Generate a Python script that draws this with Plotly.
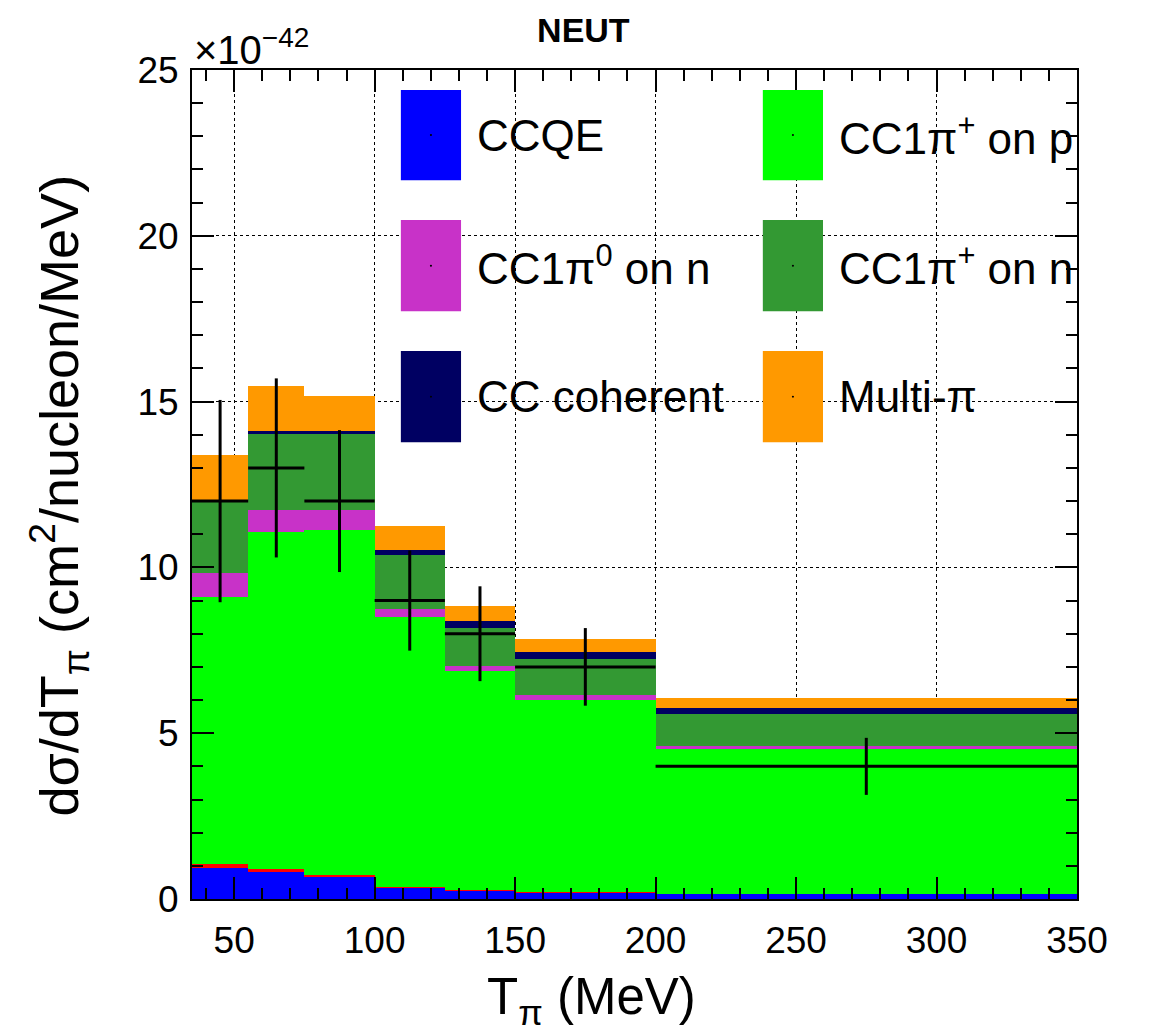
import plotly.graph_objects as go

# Bin edges (MeV)
bin_edges = [35, 55, 75, 100, 125, 150, 200, 350]

# Stacked components (x 1e-42 cm^2/nucleon/MeV), bottom to top
ccqe      = [0.95, 0.81, 0.67, 0.34, 0.25, 0.20, 0.14]
other     = [0.10, 0.08, 0.06, 0.015, 0.015, 0.005, 0.0]
cc1pip_p  = [8.06, 10.17, 10.40, 8.145, 6.605, 5.805, 4.37]
cc1pi0_n  = [0.72, 0.68, 0.61, 0.26, 0.16, 0.13, 0.10]
cc1pip_n  = [2.19, 2.31, 2.28, 1.62, 1.15, 1.11, 0.96]
cc_coh    = [0.01, 0.06, 0.08, 0.15, 0.19, 0.20, 0.19]
multi_pi  = [1.35, 1.37, 1.08, 0.72, 0.47, 0.40, 0.30]

# Data points
data_vals = [12.0, 13.0, 12.0, 9.0, 8.0, 7.0, 4.0]
data_errs = [3.05, 2.7, 2.14, 1.51, 1.43, 1.17, 0.86]

x_ticks = [50, 100, 150, 200, 250, 300, 350]
y_ticks = [0, 5, 10, 15, 20, 25]

centers = [(a + b) / 2 for a, b in zip(bin_edges[:-1], bin_edges[1:])]
widths = [b - a for a, b in zip(bin_edges[:-1], bin_edges[1:])]
halfw = [w / 2 for w in widths]

FONT = "Liberation Sans, Arial, Helvetica, sans-serif"

components = [
    ("CCQE", ccqe, "#0000ff"),
    ("Other", other, "#ff0000"),
    ("CC1π<sup>+</sup> on p", cc1pip_p, "#00ff00"),
    ("CC1π<sup>0</sup> on n", cc1pi0_n, "#c832c8"),
    ("CC1π<sup>+</sup> on n", cc1pip_n, "#339933"),
    ("CC coherent", cc_coh, "#000062"),
    ("Multi-π", multi_pi, "#ff9900"),
]

fig = go.Figure()
for name, vals, col in components:
    fig.add_trace(go.Bar(
        x=centers, y=vals, width=widths, name=name,
        marker=dict(color=col, line=dict(width=0)),
        showlegend=False,
    ))

fig.add_trace(go.Scatter(
    x=centers, y=data_vals, mode="markers",
    marker=dict(size=2, color="black"),
    error_x=dict(type="data", array=halfw, color="black", thickness=3, width=0),
    error_y=dict(type="data", array=data_errs, color="black", thickness=3, width=0),
    showlegend=False, name="Data",
))

# Manual legend (large ROOT-style swatches)
legend_order = [
    ("CCQE", "#0000ff", 0),
    ("CC1π<sup>+</sup> on p", "#00ff00", 1),
    ("CC1π<sup>0</sup> on n", "#c832c8", 0),
    ("CC1π<sup>+</sup> on n", "#339933", 1),
    ("CC coherent", "#000062", 0),
    ("Multi-π", "#ff9900", 1),
]
col_box = [(0.236, 0.304), (0.645, 0.713)]
col_text = [0.320, 0.729]
row_box = [(0.867, 0.976), (0.709, 0.819), (0.551, 0.661)]
shapes = []
annotations = []
for i, (lab, colr, c) in enumerate(legend_order):
    r = i // 2
    x0, x1 = col_box[c]
    y0, y1 = row_box[r]
    shapes.append(dict(type="rect", xref="paper", yref="paper",
                       x0=x0, x1=x1, y0=y0, y1=y1,
                       fillcolor=colr, line=dict(width=0), layer="above"))
    xm, ym = (x0 + x1) / 2, (y0 + y1) / 2
    shapes.append(dict(type="circle", xref="paper", yref="paper",
                       x0=xm - 0.0012, x1=xm + 0.0012, y0=ym - 0.0012, y1=ym + 0.0012,
                       fillcolor="black", line=dict(width=0), layer="above"))
    annotations.append(dict(text=lab, xref="paper", yref="paper",
                            x=col_text[c], y=ym, xanchor="left", yanchor="middle",
                            showarrow=False, font=dict(family=FONT, size=44, color="black")))

# Axis titles and exponent
annotations.append(dict(text="T<sub>π</sub> (MeV)", xref="paper", yref="paper",
                        x=0.451, y=-0.122, xanchor="center", yanchor="middle",
                        showarrow=False, font=dict(family=FONT, size=51, color="black")))
annotations.append(dict(text="dσ/dT<sub>π</sub> (cm<sup>2</sup>/nucleon/MeV)",
                        xref="paper", yref="paper", x=-0.150, y=0.487,
                        xanchor="center", yanchor="middle", textangle=-90,
                        showarrow=False, font=dict(family=FONT, size=54, color="black")))
annotations.append(dict(text="×10<sup>−42</sup>", xref="paper", yref="paper",
                        x=0.0, y=1.0, xanchor="left", yanchor="bottom", yshift=-4,
                        showarrow=False, font=dict(family=FONT, size=40, color="black")))

fig.update_layout(
    width=1160, height=1034,
    barmode="stack", bargap=0,
    paper_bgcolor="white", plot_bgcolor="white",
    margin=dict(l=184, r=91, t=62, b=143),
    title=dict(text="<b>NEUT</b>", x=0.496, xanchor="center", y=0.979, yanchor="middle",
               font=dict(family=FONT, size=34, color="black")),
    shapes=shapes, annotations=annotations,
    font=dict(family=FONT, color="black"),
)

fig.update_xaxes(
    range=[35, 350], tickvals=x_ticks, ticktext=[str(v) for v in x_ticks],
    ticks="inside", ticklen=22, tickwidth=2, tickcolor="black",
    minor=dict(dtick=10, tick0=0, ticks="inside", ticklen=11, tickwidth=2, tickcolor="black", showgrid=False),
    showline=True, linecolor="black", linewidth=2, mirror="ticks",
    showgrid=True, gridcolor="black", griddash="dot", gridwidth=1,
    tickfont=dict(family=FONT, size=37, color="black"), ticklabelstandoff=8,
    zeroline=False,
)
fig.update_yaxes(
    range=[0, 25], tickvals=y_ticks, ticktext=[str(v) for v in y_ticks],
    ticks="inside", ticklen=22, tickwidth=2, tickcolor="black",
    minor=dict(dtick=1, tick0=0, ticks="inside", ticklen=11, tickwidth=2, tickcolor="black", showgrid=False),
    showline=True, linecolor="black", linewidth=2, mirror="ticks",
    showgrid=True, gridcolor="black", griddash="dot", gridwidth=1,
    tickfont=dict(family=FONT, size=37, color="black"), ticklabelstandoff=4,
    zeroline=False,
)

fig.write_html("out.html")
